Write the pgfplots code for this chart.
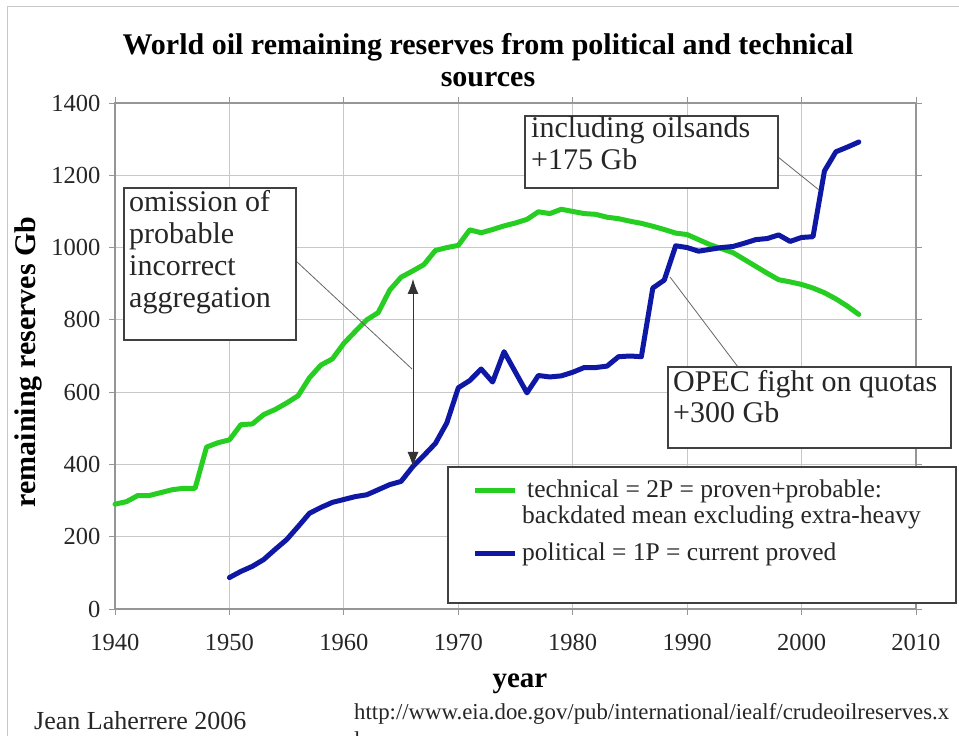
\documentclass[border=0pt]{standalone}
\usepackage{pgfplots}
\pgfplotsset{compat=1.18}
\usepackage{fontspec}
\setmainfont{Liberation Serif}
\usetikzlibrary{arrows.meta}
\definecolor{techgreen}{RGB}{38,206,34}
\definecolor{polblue}{RGB}{14,24,164}
\definecolor{framegray}{RGB}{150,150,150}
\definecolor{gridgray}{RGB}{200,200,200}

\pgfplotstableread{
year val
1940 290
1941 297
1942 314
1943 314
1944 322
1945 330
1946 334
1947 334
1948 448
1949 460
1950 468
1951 510
1952 512
1953 538
1954 552
1955 570
1956 590
1957 640
1958 675
1959 692
1960 735
1961 768
1962 800
1963 820
1964 882
1965 918
1966 935
1967 953
1968 992
1969 1000
1970 1006
1971 1049
1972 1041
1973 1050
1974 1060
1975 1068
1976 1078
1977 1099
1978 1094
1979 1106
1980 1100
1981 1094
1982 1092
1983 1084
1984 1080
1985 1073
1986 1067
1987 1059
1988 1050
1989 1040
1990 1036
1991 1022
1992 1008
1993 997
1994 986
1995 967
1996 948
1997 929
1998 911
1999 905
2000 898
2001 888
2002 875
2003 858
2004 838
2005 815
}\technical

\pgfplotstableread{
year val
1950 87
1951 104
1952 118
1953 137
1954 165
1955 192
1956 228
1957 265
1958 281
1959 295
1960 303
1961 311
1962 316
1963 330
1964 344
1965 353
1966 393
1967 425
1968 458
1969 515
1970 612
1971 632
1972 664
1973 628
1974 712
1975 655
1976 598
1977 646
1978 642
1979 645
1980 655
1981 668
1982 668
1983 672
1984 698
1985 700
1986 698
1987 888
1988 910
1989 1005
1990 1000
1991 990
1992 995
1993 1000
1994 1003
1995 1012
1996 1022
1997 1025
1998 1035
1999 1017
2000 1028
2001 1030
2002 1212
2003 1265
2004 1278
2005 1292
}\political

\begin{document}
\begin{tikzpicture}
\path[use as bounding box] (0,0) rectangle (959pt,736pt);
\fill[white] (0,0) rectangle (959pt,736pt);
\draw[gridgray, line width=1pt] (7pt,0pt) -- (7pt,729pt) -- (959pt,729pt);
\begin{axis}[
  at={(115pt,127pt)}, anchor=south west,
  scale only axis, width=801pt, height=506pt,
  xmin=1940, xmax=2010, ymin=0, ymax=1400,
  xtick={1940,1950,...,2010}, ytick={0,200,...,1400},
  grid=major, major grid style={gridgray, line width=0.9pt},
  axis line style={framegray, line width=1.2pt},
  tick style={framegray, line width=0.9pt},
  tick align=outside, major tick length=6pt,
  /pgf/number format/1000 sep={},
  /pgf/number format/assume math mode=true,
  ticklabel style={font=\fontsize{24.5}{28}\selectfont, text=black!85},
  xticklabel style={yshift=-16pt},
  yticklabel style={xshift=-5pt},
  clip=false,
  title={World oil remaining reserves from political and technical\\sources},
  title style={font=\bfseries\fontsize{30}{32}\selectfont, align=center,
    at={(axis description cs:0.4657,1.073)}, anchor=center},
  xlabel={year},
  xlabel style={font=\bfseries\fontsize{29}{32}\selectfont,
    at={(axis description cs:0.5056,-0.148)}, anchor=center},
  ylabel={remaining reserves Gb},
  ylabel style={font=\bfseries\fontsize{30}{32}\selectfont,
    at={(axis description cs:-0.1086,0.488)}, anchor=center},
]
\addplot[techgreen, line width=5pt, line join=round, line cap=round] table[x=year,y=val] {\technical};
\addplot[polblue, line width=5pt, line join=round, line cap=round] table[x=year,y=val] {\political};
\end{axis}
\begin{scope}[x=1pt, y=-1pt, shift={(0pt,736pt)}]
  \tikzset{ann/.style={anchor=base west, inner sep=0pt, font=\fontsize{30}{32}\selectfont, text=black!85},
           leg/.style={anchor=base west, inner sep=0pt, font=\fontsize{25.5}{30}\selectfont, text=black!85}}
  % legend
  \draw[black!75, fill=white, line width=1.2pt] (448,467) rectangle (956,603);
  \draw[techgreen, line width=5pt] (475,491) -- (515,491);
  \node[leg] at (527,498) {technical = 2P = proven+probable:};
  \node[leg] at (522,524) {backdated mean excluding extra-heavy};
  \draw[polblue, line width=5pt] (475,554) -- (515,554);
  \node[leg] at (522,561) {political = 1P = current proved};
  % omission box
  \draw[black!60, line width=0.8pt] (296,261) -- (412,369);
  \draw[black!75, fill=white, line width=1.2pt] (124,188) rectangle (296,340);
  \node[ann] at (129,212) {omission of};
  \node[ann] at (129,244) {probable};
  \node[ann] at (129,276) {incorrect};
  \node[ann] at (129,308) {aggregation};
  \draw[black!80, line width=0.9pt, {Latex[length=15pt,width=11pt]}-{Latex[length=15pt,width=11pt]}] (413,279) -- (413,467);
  % oilsands box
  \draw[black!60, line width=0.8pt] (778,157) -- (819,190);
  \draw[black!75, fill=white, line width=1.2pt] (525,116) rectangle (778,188);
  \node[ann] at (531,138) {including oilsands};
  \node[ann] at (531,170) {+175 Gb};
  % OPEC box
  \draw[black!60, line width=0.8pt] (738,367) -- (670,277);
  \draw[black!75, fill=white, line width=1.2pt] (668,367) rectangle (951,448);
  \node[ann] at (673,392) {OPEC fight on quotas};
  \node[ann] at (673,423) {+300 Gb};
  % bottom texts
  \node[anchor=base west, inner sep=0pt, font=\fontsize{26}{30}\selectfont, text=black!85] at (34,730) {Jean Laherrere 2006};
  \node[anchor=base west, inner sep=0pt, font=\fontsize{22.8}{26}\selectfont, text=black!85] at (354,720) {http://www.eia.doe.gov/pub/international/iealf/crudeoilreserves.x};
  \node[anchor=base west, inner sep=0pt, font=\fontsize{22.8}{26}\selectfont, text=black!85] at (354,748) {ls};
\end{scope}
\end{tikzpicture}
\end{document}
